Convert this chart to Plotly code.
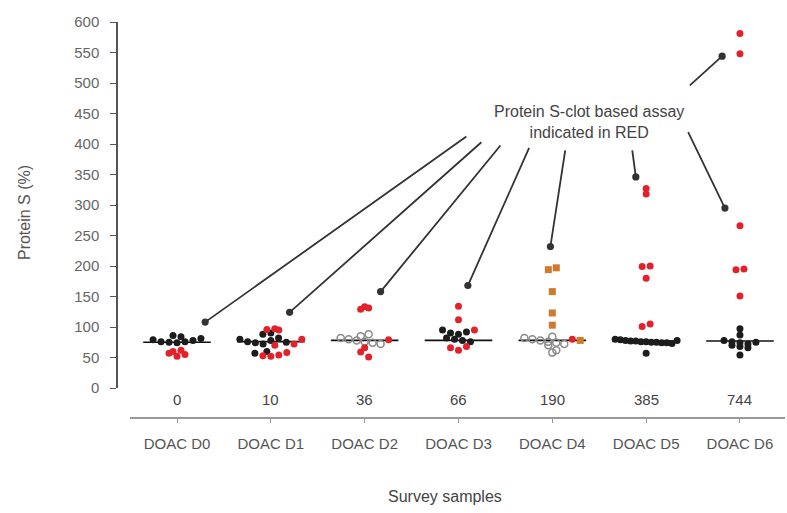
import math
import plotly.graph_objects as go

# Survey rounds (days) and sample labels
days = ["0", "10", "36", "66", "190", "385", "744"]
samples = ["DOAC D0", "DOAC D1", "DOAC D2", "DOAC D3", "DOAC D4", "DOAC D5", "DOAC D6"]

# Protein S results (%) per survey sample
black_vals = [
    [86, 79, 76, 75, 74, 76, 78, 81, 84],
    [88, 80, 76, 74, 72, 78, 82, 90, 57, 60, 75],
    [],
    [95, 90, 88, 82, 80, 78, 76, 92],
    [],
    [80, 79, 78, 77, 77, 76, 76, 75, 75, 74, 74, 73, 78, 57],
    [97, 87, 78, 76, 74, 72, 70, 68, 66, 54, 75],
]
red_vals = [
    [57, 52, 55, 60, 62],
    [96, 97, 95, 70, 72, 80, 53, 52, 54, 58],
    [133, 129, 131, 79, 59, 66, 51],
    [134, 112, 95, 66, 62, 68],
    [80],
    [327, 318, 199, 200, 180, 101, 105],
    [581, 548, 266, 194, 195, 151],
]
gray_vals = [
    [], [], [85, 82, 80, 78, 76, 74, 72, 88], [], [82, 80, 78, 76, 74, 72, 70, 84, 62, 58], [], [],
]
orange_vals = [
    [], [], [], [], [194, 197, 158, 123, 103, 78], [], [],
]
medians = [75, 76, 78, 78, 78, 77, 77]

series = [
    ("black", black_vals, dict(color="#1c1c1c", size=7, symbol="circle")),
    ("gray", gray_vals, dict(color="#8a8a8a", size=7, symbol="circle-open",
                             line=dict(width=1.5))),
    ("red", red_vals, dict(color="#e3212b", size=7, symbol="circle")),
    ("orange", orange_vals, dict(color="#d27a2c", size=7, symbol="square")),
]


def swarm(points, center, binw=12.0, step=0.085, maxhalf=0.33):
    """Spread points that share a value band side by side around the category."""
    rows = {}
    for key, v in points:
        rows.setdefault(math.floor(v / binw), []).append((key, v))
    out = []
    for row in rows.values():
        n = len(row)
        s = step if n < 2 else min(step, 2 * maxhalf / (n - 1))
        for j, (key, v) in enumerate(row):
            out.append((key, center + (j - (n - 1) / 2) * s, v))
    return out


placed = {name: ([], []) for name, _, _ in series}
for i in range(len(days)):
    pts = []
    for name, vals, _ in series:
        pts += [(name, v) for v in vals[i]]
    for name, x, v in swarm(pts, i):
        placed[name][0].append(x)
        placed[name][1].append(v)

fig = go.Figure()

# median bars
for i, m in enumerate(medians):
    fig.add_trace(go.Scatter(x=[i - 0.36, i + 0.36], y=[m, m], mode="lines",
                             line=dict(color="#111", width=1.6), hoverinfo="skip",
                             showlegend=False))

for name, _, mk in series:
    xs, ys = placed[name]
    fig.add_trace(go.Scatter(x=xs, y=ys, mode="markers", marker=mk, showlegend=False))

# callout arrows: (head x, head y, tail x, tail y)
arrows = [
    (0.30, 108, 3.10, 414),
    (1.20, 124, 3.26, 405),
    (2.17, 158, 3.46, 400),
    (3.10, 168, 3.76, 396),
    (3.98, 232, 4.14, 392),
    (4.89, 346, 4.85, 392),
    (5.84, 295, 5.44, 422),
    (5.81, 544, 5.45, 494),
]
annotations = []
for hx, hy, tx, ty in arrows:
    annotations.append(dict(x=hx, y=hy, ax=tx, ay=ty, xref="x", yref="y", axref="x", ayref="y",
                            text="", showarrow=True, arrowhead=6, arrowsize=1.0,
                            arrowwidth=1.8, arrowcolor="#333"))
annotations.append(dict(x=4.39, y=436, xref="x", yref="y", showarrow=False,
                        text="Protein S-clot based assay<br>indicated in RED",
                        font=dict(size=16, color="#444"), align="center"))

# day numbers under each group
ybot = 30 / 396
for i, d in enumerate(days):
    annotations.append(dict(x=i, y=ybot, xref="x", yref="paper", yanchor="top", yshift=-1,
                            showarrow=False, text=d, font=dict(size=15, color="#444")))

annotations.append(dict(x=-0.155, y=0.52, xref="paper", yref="paper", showarrow=False,
                        text="Protein S (%)", textangle=-90,
                        font=dict(size=16, color="#555")))
annotations.append(dict(x=0.491, y=-0.225, xref="paper", yref="paper", showarrow=False,
                        text="Survey samples", font=dict(size=16, color="#444")))

fig.update_layout(
    width=787, height=513,
    margin=dict(l=117, r=2, t=22, b=95),
    paper_bgcolor="white", plot_bgcolor="white",
    font=dict(family="Liberation Sans, Arial, sans-serif"),
    xaxis=dict(domain=[13 / 668, 1], anchor="free", position=0, range=[-0.501, 6.48],
               tickmode="array", tickvals=list(range(len(samples))), ticktext=samples,
               showline=True, linecolor="#999", linewidth=2, ticks="outside", ticklen=4,
               tickcolor="#999", showgrid=False, zeroline=False, ticklabelstandoff=8,
               tickfont=dict(size=15, color="#555")),
    yaxis=dict(domain=[ybot, 1], anchor="free", position=0, range=[0, 600], dtick=50,
               showline=True, linecolor="#555", linewidth=1.5, ticks="outside", ticklen=6,
               tickcolor="#555", showgrid=False, zeroline=False, ticklabelstandoff=8,
               tickfont=dict(size=15, color="#666")),
    annotations=annotations,
)

fig.write_html("out.html")
